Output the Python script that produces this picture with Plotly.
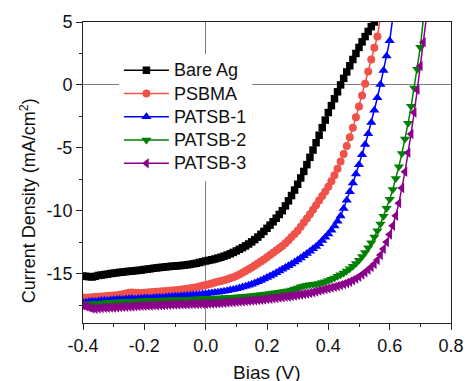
import plotly.graph_objects as go

# Bias sweep (V)
BIAS = [-0.40, -0.39, -0.38, -0.37, -0.36, -0.35, -0.34, -0.33, -0.32, -0.31,
        -0.30, -0.29, -0.28, -0.27, -0.26, -0.25, -0.24, -0.23, -0.22, -0.21,
        -0.20, -0.19, -0.18, -0.17, -0.16, -0.15, -0.14, -0.13, -0.12, -0.11,
        -0.10, -0.09, -0.08, -0.07, -0.06, -0.05, -0.04, -0.03, -0.02, -0.01,
        0.00, 0.01, 0.02, 0.03, 0.04, 0.05, 0.06, 0.07, 0.08, 0.09,
        0.10, 0.11, 0.12, 0.13, 0.14, 0.15, 0.16, 0.17, 0.18, 0.19,
        0.20, 0.21, 0.22, 0.23, 0.24, 0.25, 0.26, 0.27, 0.28, 0.29,
        0.30, 0.31, 0.32, 0.33, 0.34, 0.35, 0.36, 0.37, 0.38, 0.39,
        0.40, 0.41, 0.42, 0.43, 0.44, 0.45, 0.46, 0.47, 0.48, 0.49,
        0.50, 0.51, 0.52, 0.53, 0.54, 0.55, 0.56, 0.57, 0.58, 0.59,
        0.60, 0.61, 0.62, 0.63, 0.64, 0.65, 0.66, 0.67, 0.68, 0.69,
        0.70, 0.71, 0.72]

# Current density (mA/cm^2)
BARE_AG = [-15.20, -15.22, -15.25, -15.27, -15.22, -15.15, -15.12, -15.08, -15.05, -15.00,
           -14.97, -14.94, -14.90, -14.88, -14.85, -14.82, -14.80, -14.77, -14.75, -14.72,
           -14.68, -14.65, -14.62, -14.58, -14.55, -14.52, -14.50, -14.47, -14.44, -14.42,
           -14.40, -14.38, -14.36, -14.34, -14.30, -14.27, -14.22, -14.18, -14.12, -14.06,
           -14.00, -13.95, -13.90, -13.84, -13.77, -13.70, -13.62, -13.53, -13.43, -13.32,
           -13.20, -13.07, -12.94, -12.80, -12.65, -12.48, -12.30, -12.10, -11.88, -11.65,
           -11.40, -11.15, -10.88, -10.60, -10.30, -10.00, -9.62, -9.22, -8.80, -8.36,
           -7.90, -7.40, -6.88, -6.34, -5.76, -5.18, -4.60, -4.00, -3.40, -2.80,
           -2.20, -1.65, -1.10, -0.55, 0.00, 0.52, 1.03, 1.52, 2.02, 2.50,
           2.98, 3.42, 3.84, 4.25, 4.63, 5.00]

PSBMA = [-16.90, -16.92, -16.90, -16.88, -16.86, -16.84, -16.82, -16.80, -16.78, -16.76,
         -16.74, -16.72, -16.68, -16.64, -16.58, -16.52, -16.50, -16.52, -16.55, -16.55,
         -16.52, -16.50, -16.48, -16.46, -16.44, -16.42, -16.40, -16.38, -16.36, -16.34,
         -16.32, -16.30, -16.27, -16.24, -16.20, -16.16, -16.12, -16.08, -16.03, -15.97,
         -15.90, -15.84, -15.78, -15.72, -15.66, -15.60, -15.53, -15.46, -15.38, -15.29,
         -15.20, -15.07, -14.94, -14.80, -14.66, -14.52, -14.36, -14.20, -14.04, -13.88,
         -13.70, -13.53, -13.35, -13.17, -12.98, -12.80, -12.58, -12.35, -12.10, -11.85,
         -11.60, -11.28, -10.95, -10.62, -10.28, -9.92, -9.56, -9.20, -8.84, -8.48,
         -8.10, -7.66, -7.18, -6.66, -6.10, -5.50, -4.86, -4.16, -3.40, -2.58,
         -1.72, -0.84, 0.10, 1.06, 2.02, 2.96, 3.85, 5.40]

PATSB_1 = [-17.30, -17.28, -17.25, -17.20, -17.22, -17.18, -17.15, -17.12, -17.15, -17.10,
           -17.08, -17.06, -17.04, -17.06, -17.02, -17.00, -16.98, -17.02, -16.98, -16.96,
           -16.95, -16.94, -16.96, -16.92, -16.90, -16.88, -16.90, -16.86, -16.84, -16.82,
           -16.80, -16.80, -16.78, -16.76, -16.74, -16.72, -16.70, -16.68, -16.66, -16.63,
           -16.60, -16.57, -16.54, -16.51, -16.48, -16.44, -16.40, -16.36, -16.31, -16.26,
           -16.20, -16.14, -16.07, -16.00, -15.92, -15.84, -15.75, -15.65, -15.55, -15.44,
           -15.32, -15.20, -15.07, -14.94, -14.80, -14.66, -14.52, -14.38, -14.23, -14.08,
           -13.92, -13.76, -13.59, -13.41, -13.22, -13.02, -12.85, -12.62, -12.38, -12.12,
           -11.85, -11.55, -11.22, -10.85, -10.42, -9.82, -9.18, -8.50, -7.80, -7.08,
           -6.34, -5.56, -4.74, -3.88, -2.98, -2.02, -1.02, 0.04, 1.15, 2.30,
           3.50, 5.30]

PATSB_2 = [-17.40, -17.42, -17.45, -17.40, -17.38, -17.36, -17.35, -17.32, -17.30, -17.30,
           -17.28, -17.26, -17.25, -17.24, -17.22, -17.22, -17.20, -17.20, -17.18, -17.17,
           -17.16, -17.15, -17.14, -17.13, -17.12, -17.12, -17.11, -17.10, -17.10, -17.09,
           -17.08, -17.08, -17.07, -17.06, -17.05, -17.04, -17.03, -17.02, -17.01, -17.00,
           -16.99, -16.98, -16.97, -16.96, -16.95, -16.94, -16.93, -16.91, -16.90, -16.88,
           -16.86, -16.84, -16.82, -16.80, -16.78, -16.76, -16.74, -16.71, -16.68, -16.65,
           -16.62, -16.58, -16.55, -16.52, -16.48, -16.44, -16.40, -16.36, -16.30, -16.22,
           -16.14, -16.05, -15.98, -15.92, -15.88, -15.85, -15.82, -15.78, -15.72, -15.65,
           -15.55, -15.45, -15.35, -15.22, -15.10, -14.95, -14.80, -14.62, -14.42, -14.20,
           -13.95, -13.65, -13.32, -12.95, -12.55, -12.10, -11.60, -11.05, -10.45, -9.80,
           -9.10, -8.32, -7.45, -6.50, -5.45, -4.30, -3.05, -1.70, -0.25, 1.25,
           3.00, 5.30]

PATSB_3 = [-17.55, -17.62, -17.70, -17.78, -17.80, -17.76, -17.74, -17.72, -17.72, -17.70,
           -17.70, -17.68, -17.66, -17.65, -17.64, -17.62, -17.62, -17.60, -17.58, -17.57,
           -17.56, -17.55, -17.54, -17.53, -17.52, -17.51, -17.50, -17.49, -17.48, -17.47,
           -17.46, -17.46, -17.45, -17.45, -17.44, -17.43, -17.42, -17.42, -17.41, -17.40,
           -17.40, -17.39, -17.38, -17.37, -17.36, -17.35, -17.33, -17.31, -17.29, -17.27,
           -17.25, -17.23, -17.21, -17.19, -17.17, -17.15, -17.13, -17.11, -17.09, -17.06,
           -17.03, -17.00, -16.97, -16.94, -16.91, -16.88, -16.85, -16.82, -16.78, -16.74,
           -16.70, -16.66, -16.62, -16.58, -16.54, -16.48, -16.42, -16.36, -16.30, -16.24,
           -16.18, -16.12, -16.06, -15.99, -15.92, -15.84, -15.75, -15.65, -15.53, -15.40,
           -15.25, -15.08, -14.90, -14.70, -14.48, -14.24, -13.92, -13.52, -13.05, -12.50,
           -11.90, -11.20, -10.40, -9.40, -8.20, -6.90, -5.40, -3.90, -2.20, -0.40,
           1.50, 3.40, 5.40]

SERIES_NAMES = ["Bare Ag", "PSBMA", "PATSB-1", "PATSB-2", "PATSB-3"]
SERIES_VALUES = [BARE_AG, PSBMA, PATSB_1, PATSB_2, PATSB_3]
COLORS = ["#000000", "#F0524A", "#0000FF", "#008000", "#8B008B"]
SYMBOLS = ["square", "circle", "triangle-up", "triangle-down", "triangle-left"]
SIZES = [7.5, 8, 9, 9, 9]

X_TICKS = [-0.4, -0.2, 0.0, 0.2, 0.4, 0.6, 0.8]
X_TICK_LABELS = ["-0.4", "-0.2", "0.0", "0.2", "0.4", "0.6", "0.8"]
Y_TICKS = [5, 0, -5, -10, -15]
Y_TICK_LABELS = ["5", "0", "-5", "-10", "-15"]

FONT = "Arial, Liberation Sans, sans-serif"

fig = go.Figure()
for name, vals, col, sym, sz in zip(SERIES_NAMES, SERIES_VALUES, COLORS, SYMBOLS, SIZES):
    fig.add_trace(go.Scatter(
        x=BIAS[:len(vals)], y=vals,
        name='<span style="font-size:18px">' + name + '</span>',
        mode="lines+markers",
        line=dict(color=col, width=1.5),
        marker=dict(symbol=sym, size=sz, color=col, line=dict(width=0)),
    ))

axis_common = dict(
    showline=True, mirror=True, linecolor="#222222", linewidth=1,
    ticks="outside", ticklen=6, tickwidth=1, tickcolor="#222222",
    showgrid=False, zeroline=True, zerolinecolor="#7f7f7f", zerolinewidth=1,
    tickfont=dict(family=FONT, size=18, color="#111111"),
)

fig.update_layout(
    width=476, height=381,
    margin=dict(l=83, r=14, t=21, b=58),
    plot_bgcolor="white", paper_bgcolor="white",
    font=dict(family=FONT, color="#111111"),
    xaxis=dict(range=[-0.4, 0.8], tickmode="array", tickvals=X_TICKS, ticktext=X_TICK_LABELS,
               minor=dict(dtick=0.1, tick0=-0.4, ticks="outside", ticklen=3, tickcolor="#222222"),
               **axis_common),
    yaxis=dict(range=[-18.93, 5], tickmode="array", tickvals=Y_TICKS, ticktext=Y_TICK_LABELS,
               minor=dict(dtick=2.5, tick0=0, ticks="outside", ticklen=3, tickcolor="#222222"),
               **axis_common),
    showlegend=True,
    legend=dict(x=0.0976, y=0.895, xanchor="left", yanchor="top", bgcolor="white",
                borderwidth=0, font=dict(family=FONT, size=15.6, color="#111111"),
                tracegroupgap=0, itemwidth=45),
    annotations=[
        dict(text="Current Density (mA/cm<sup>2</sup>)", textangle=-90,
             xref="paper", yref="paper", x=-0.148, y=0.406, xanchor="center", yanchor="middle",
             showarrow=False, font=dict(family=FONT, size=18, color="#111111")),
        dict(text="Bias (V)", xref="paper", yref="paper", x=0.5, y=-0.123,
             xanchor="center", yanchor="top", showarrow=False,
             font=dict(family=FONT, size=19, color="#111111")),
    ],
)

fig.write_html("out.html")
